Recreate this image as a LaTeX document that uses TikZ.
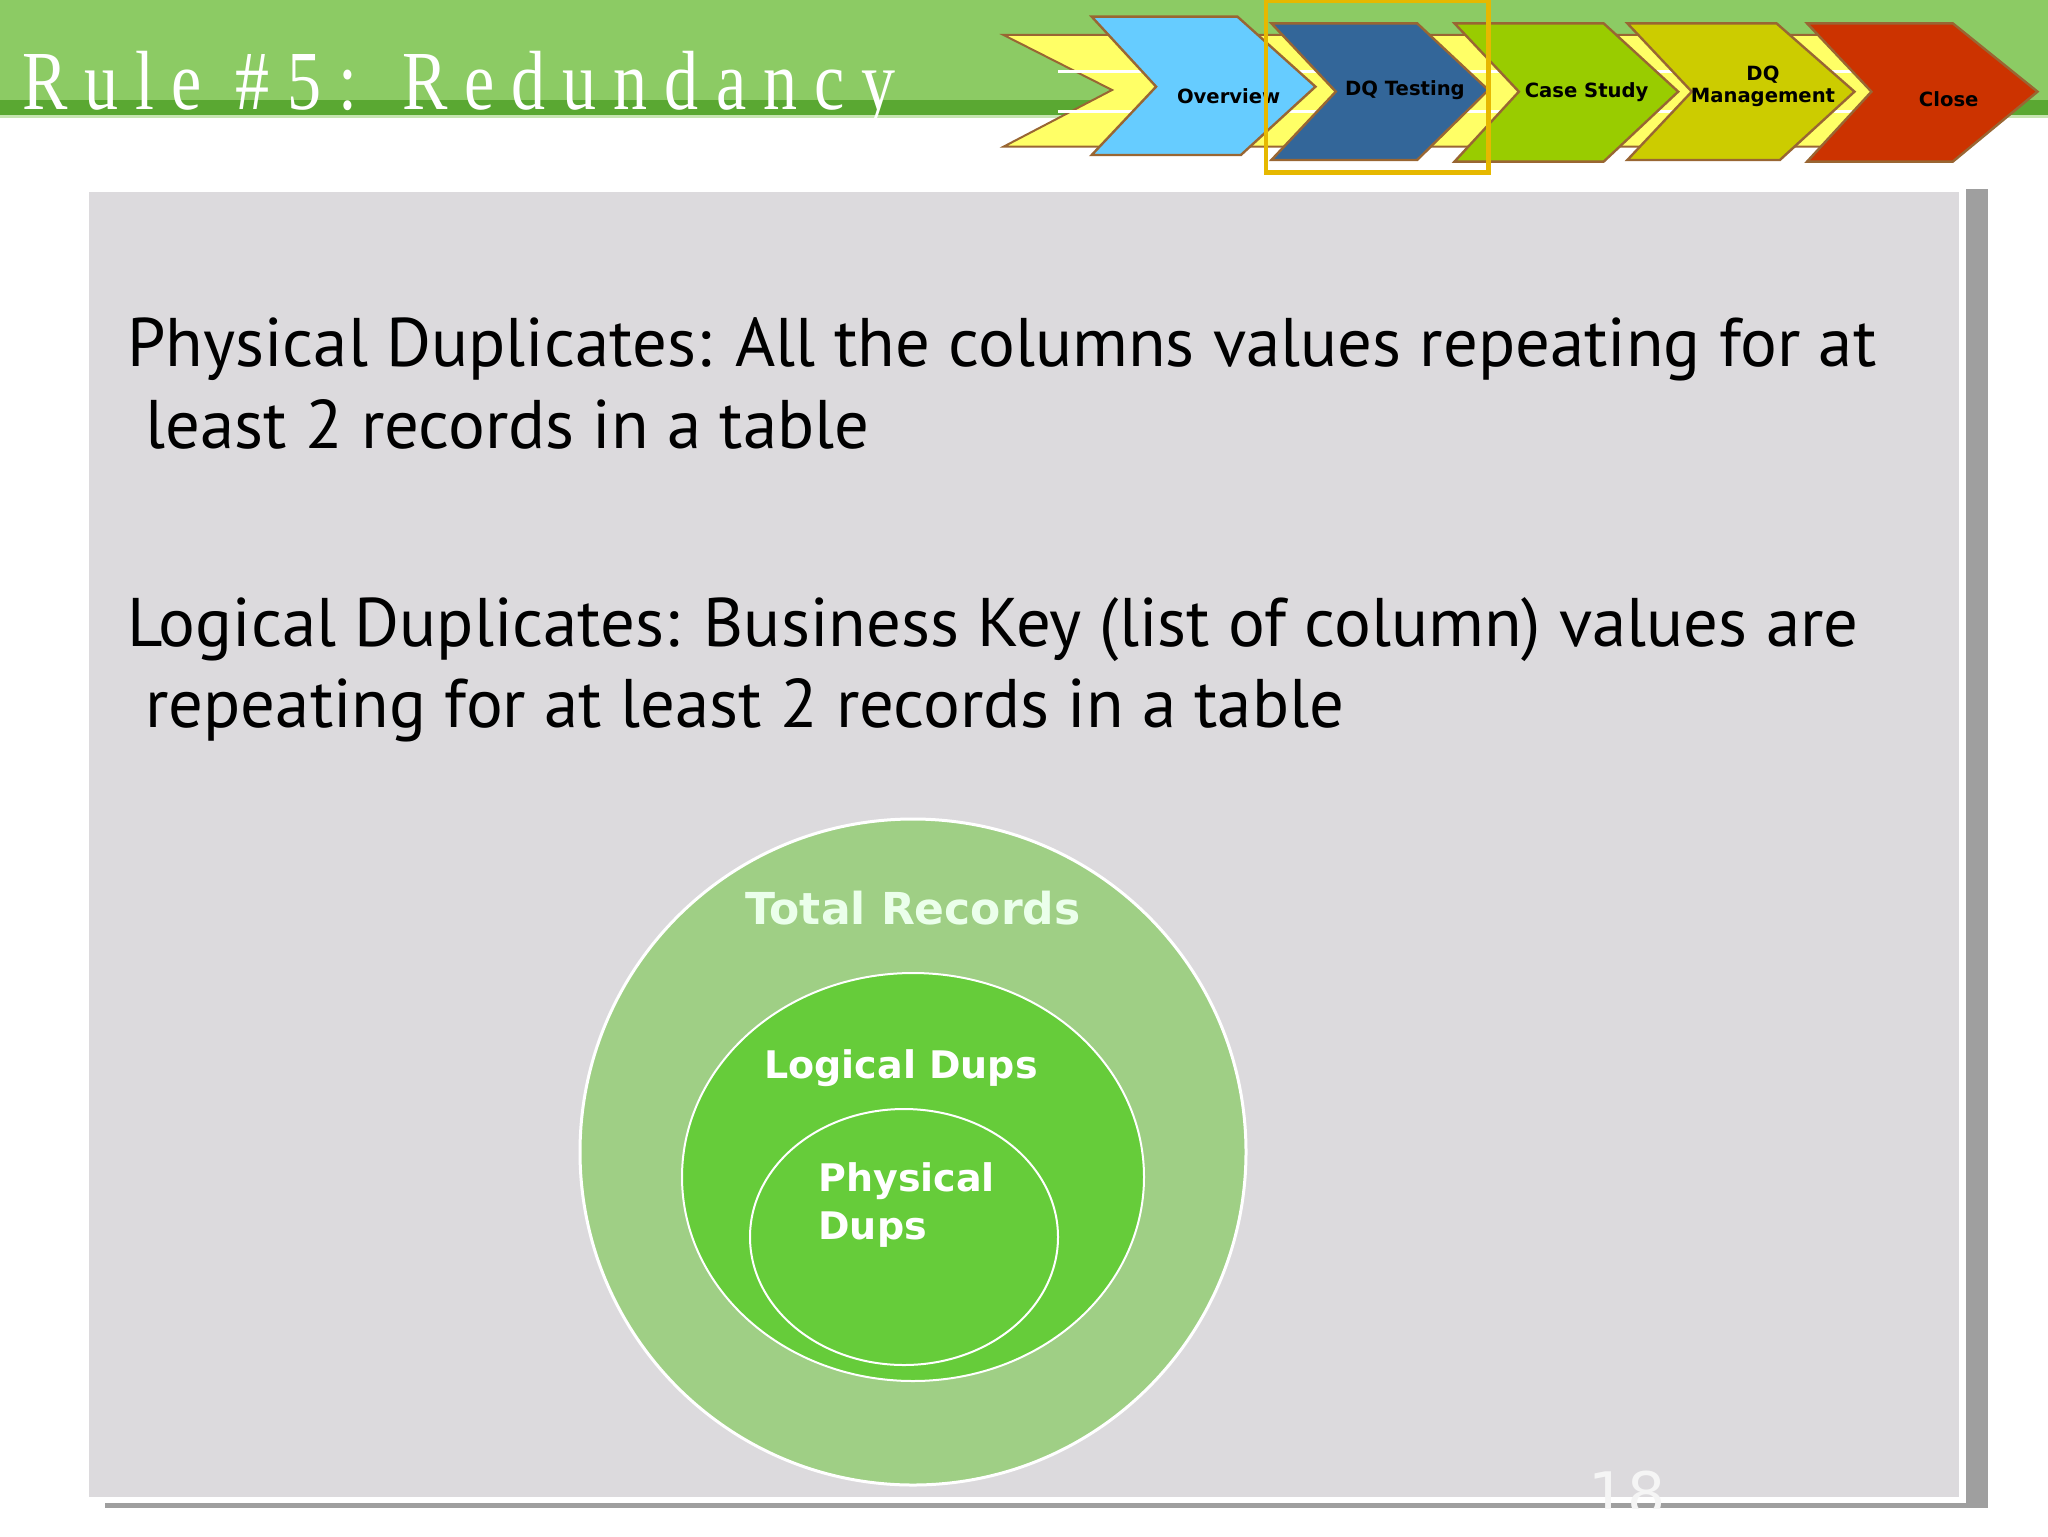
\documentclass[tikz,border=0pt]{standalone}
\usepackage{fontspec}
\setmainfont{Liberation Serif}
\newfontfamily\bodyf{PT Sans}
\newfontfamily\chevf{DejaVu Sans}
\newfontfamily\titlef[LetterSpace=25]{Liberation Serif}
\definecolor{hdr}{HTML}{8CCB64}
\definecolor{hdrd}{HTML}{5AA832}
\definecolor{panel}{HTML}{DCDADD}
\definecolor{outerc}{HTML}{9FCF85}
\definecolor{midc}{HTML}{66CC3A}
\definecolor{edgeb}{HTML}{996633}
\definecolor{yel}{HTML}{FFFF66}
\definecolor{hl}{HTML}{E6B800}
\definecolor{cA}{HTML}{66CCFF}
\definecolor{cB}{HTML}{336699}
\definecolor{cC}{HTML}{99CC00}
\definecolor{cD}{HTML}{CCCC00}
\definecolor{cE}{HTML}{CC3300}
\tikzset{
  chev/.style={draw=edgeb, line width=1.2pt},
  chevtxt/.style={font=\chevf\bfseries\fontsize{9.8}{11}\selectfont, align=center, inner sep=0pt},
  bodytxt/.style={font=\bodyf\fontsize{34.4}{40}\selectfont, anchor=base west, inner sep=0pt},
  circtxt/.style={font=\chevf\bfseries\fontsize{19}{24}\selectfont, text=white, inner sep=0pt},
}
\begin{document}
\begin{tikzpicture}[x=0.5pt,y=-0.5pt]
\useasboundingbox (0,0) rectangle (2048,1536);
\fill[white] (0,0) rectangle (2048,1536);
% header
\fill[hdr] (0,0) rectangle (2048,100);
\fill[hdrd] (0,100) rectangle (2048,115);
\fill[hdr!50!white] (0,115) rectangle (2048,118);
\node[anchor=base west, inner sep=0pt, text=white] (title) at (22,110)
  {\scalebox{0.81}[1]{\titlef\fontsize{42}{44}\selectfont Rule \#5: Redundancy}};
% chevrons
\begin{scope}[shift={(990,0)}, x=0.339pt, y=-0.5pt/3]
  \foreach \x in {20,285,555,810,1075}{
    \fill[yel, draw=edgeb, line width=1pt] (\x,105) -- (\x+215,105) -- (\x+330,270) -- (\x+215,440) -- (\x,440) -- (\x+160,270) -- cycle;
    \draw[white, line width=1.5pt] (\x+80,215) -- (\x+250,215) (\x+80,335) -- (\x+250,335);
  }
  \path[chev, fill=cA] (150,50) -- (365,50) -- (480,260) -- (370,465) -- (150,465) -- (245,260) -- cycle;
  \path[chev, fill=cB] (415,70) -- (630,70) -- (735,270) -- (630,480) -- (415,480) -- (510,275) -- cycle;
  \path[chev, fill=cC] (685,70) -- (905,70) -- (1015,275) -- (905,485) -- (685,485) -- (780,275) -- cycle;
  \path[chev, fill=cD] (940,70) -- (1160,70) -- (1275,275) -- (1165,480) -- (940,480) -- (1035,275) -- cycle;
  \path[chev, fill=cE] (1205,70) -- (1420,70) -- (1545,275) -- (1420,485) -- (1205,485) -- (1300,275) -- cycle;
  \node[chevtxt] (c1) at (352,290) {Overview};
  \node[chevtxt] (c2) at (612,272) {DQ Testing};
  \node[chevtxt] (c3) at (880,278) {Case Study};
  \node[chevtxt] (c4) at (1140,260) {DQ\\Management};
  \node[chevtxt] (c5) at (1414,298) {Close};
  \draw[hl, line width=2.2pt] (407,2) rectangle (735,518);
\end{scope}
% panel
\fill[gray!75] (1966,189) rectangle (1988,1508);
\fill[gray!75] (105,1503) rectangle (1988,1508);
\fill[panel] (89,192) rectangle (1959,1497);
% text
\node[bodytxt] (p1) at (127,366) {Physical Duplicates: All the columns values repeating for at};
\node[bodytxt] (p2) at (145,448) {least 2 records in a table};
\node[bodytxt] (l1) at (127,646) {Logical Duplicates: Business Key (list of column) values are};
\node[bodytxt] (l2) at (145,727) {repeating for at least 2 records in a table};
% circles
\fill[outerc, draw=white, line width=1.5pt] (913,1152) circle [radius=333];
\fill[midc, draw=white, line width=1pt] (913,1177) ellipse [x radius=231, y radius=204];
\fill[midc, draw=white, line width=1pt] (904,1237) ellipse [x radius=154, y radius=128];
\node[circtxt, font=\chevf\bfseries\fontsize{22}{24}\selectfont, text=white!92!green] (tr) at (913,908) {Total Records};
\node[circtxt] (ld) at (901,1068) {Logical Dups};
\node[circtxt, align=left, anchor=north west] (pd) at (818,1162) {Physical\\Dups};
% page number
\begin{scope}
\clip (0,0) rectangle (2048,1508);
\node[font=\chevf\fontsize{30}{30}\selectfont, text=white!92!gray, anchor=base] (pn) at (1627,1515) {18};
\end{scope}
\end{tikzpicture}
\end{document}
